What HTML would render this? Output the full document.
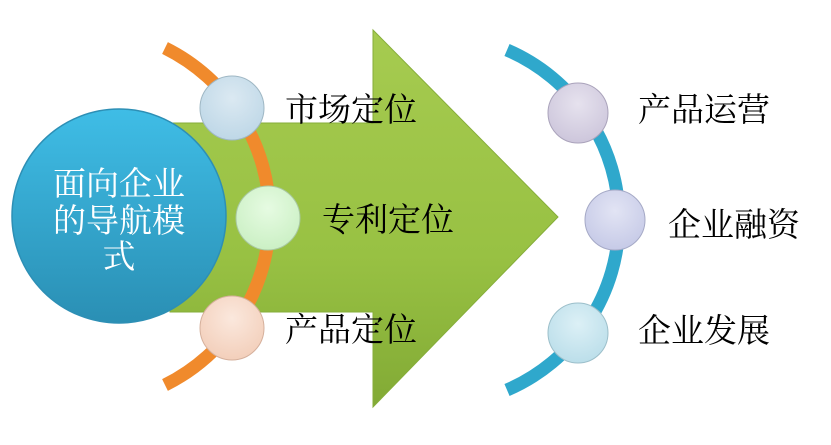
<!DOCTYPE html>
<html><head><meta charset="utf-8"><style>
html,body{margin:0;padding:0;background:#fff}
svg{display:block}
text{font-family:"Noto Serif CJK SC","Liberation Serif","Noto Sans CJK SC",serif}
</style></head><body>
<svg width="831" height="445" viewBox="0 0 831 445" xmlns="http://www.w3.org/2000/svg">
<defs>
<linearGradient id="ag" x1="0" y1="0" x2="0" y2="1">
<stop offset="0" stop-color="#a6cb50"/><stop offset="0.6" stop-color="#98c143"/><stop offset="1" stop-color="#82aa35"/>
</linearGradient>
<linearGradient id="bg" x1="0" y1="0" x2="0" y2="1">
<stop offset="0" stop-color="#3fbde6"/><stop offset="1" stop-color="#2a8fb4"/>
</linearGradient>
<radialGradient id="c1" cx="0.5" cy="0.35" r="0.7"><stop offset="0" stop-color="#dbe9f2"/><stop offset="1" stop-color="#bcd6e6"/></radialGradient>
<radialGradient id="c2" cx="0.5" cy="0.35" r="0.7"><stop offset="0" stop-color="#e6fbe2"/><stop offset="1" stop-color="#c9efc2"/></radialGradient>
<radialGradient id="c3" cx="0.5" cy="0.35" r="0.7"><stop offset="0" stop-color="#fbe8dd"/><stop offset="1" stop-color="#f2cdb8"/></radialGradient>
<radialGradient id="c4" cx="0.5" cy="0.35" r="0.7"><stop offset="0" stop-color="#e6e2ee"/><stop offset="1" stop-color="#cbc4da"/></radialGradient>
<radialGradient id="c5" cx="0.5" cy="0.35" r="0.7"><stop offset="0" stop-color="#e2e4f4"/><stop offset="1" stop-color="#c4c8e6"/></radialGradient>
<radialGradient id="c6" cx="0.5" cy="0.35" r="0.7"><stop offset="0" stop-color="#dcf0f6"/><stop offset="1" stop-color="#b9dde9"/></radialGradient>
</defs>
<polygon points="170,123 373,123 373,30 558,217 373,407 373,312 170,312" fill="url(#ag)" stroke="#86ad3a" stroke-width="1"/>
<circle cx="119" cy="216" r="107" fill="url(#bg)" stroke="#2d8fb5" stroke-width="1.5"/>
<g fill="#fff" font-size="33" text-anchor="middle">
<text x="119" y="195">面向企业</text>
<text x="119" y="232">的导航模</text>
<text x="119" y="268">式</text>
</g>
<path d="M165,48 A188,188 0 0 1 165,385" fill="none" stroke="#f08a2c" stroke-width="13"/>
<circle cx="232" cy="108" r="32" fill="url(#c1)" stroke="#9fb7c4" stroke-width="1"/>
<circle cx="268" cy="218" r="32" fill="url(#c2)" stroke="#a9c8a2" stroke-width="1"/>
<circle cx="232" cy="328" r="32" fill="url(#c3)" stroke="#d5b09c" stroke-width="1"/>
<path d="M507,50 A185,185 0 0 1 507,390" fill="none" stroke="#2fa8cc" stroke-width="13"/>
<circle cx="578" cy="113" r="30" fill="url(#c4)" stroke="#aaa3bb" stroke-width="1"/>
<circle cx="615" cy="220" r="30" fill="url(#c5)" stroke="#a5a9c6" stroke-width="1"/>
<circle cx="578" cy="333" r="30" fill="url(#c6)" stroke="#9cbfca" stroke-width="1"/>
<g fill="#000" font-size="33">
<text x="285" y="121">市场定位</text>
<text x="322" y="231">专利定位</text>
<text x="285" y="341">产品定位</text>
<text x="638" y="121">产品运营</text>
<text x="668" y="236">企业融资</text>
<text x="638" y="342">企业发展</text>
</g>
</svg>
</body></html>
